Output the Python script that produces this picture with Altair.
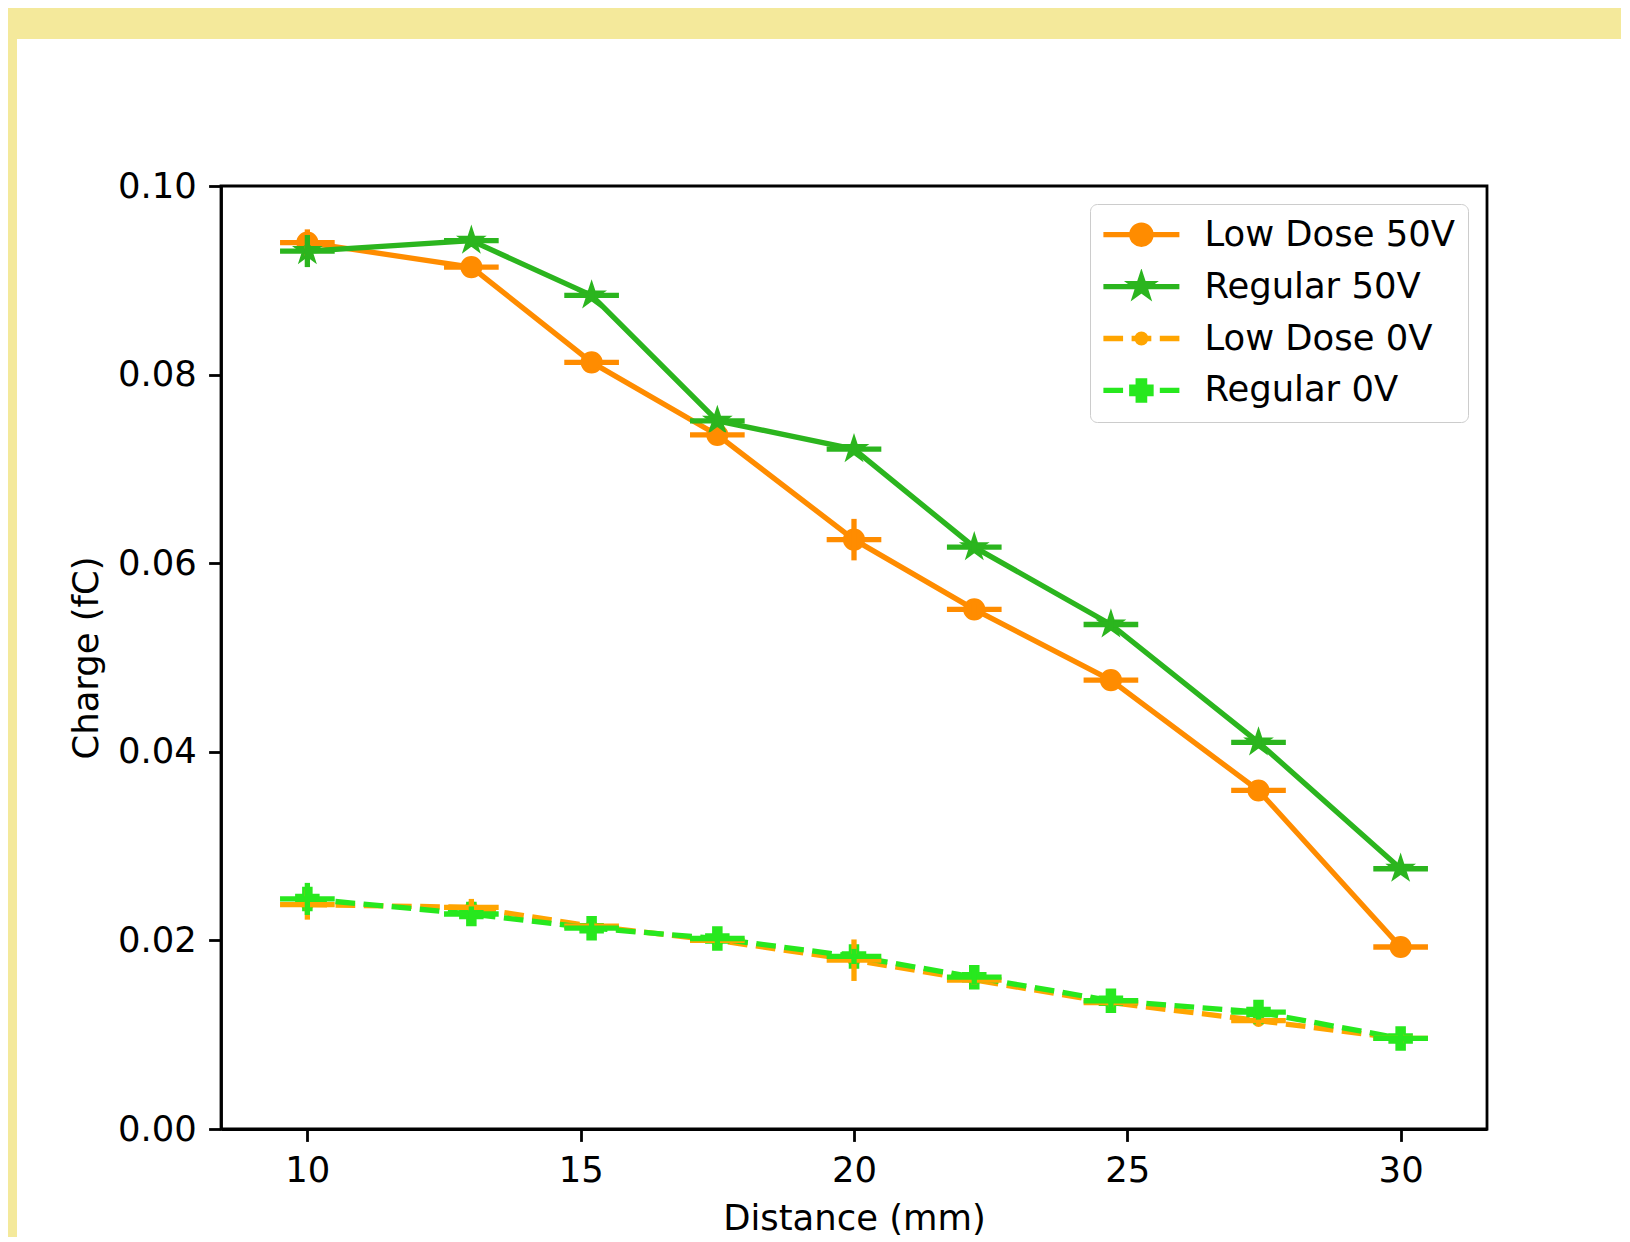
import math
import altair as alt
import pandas as pd

# ---------------- data ----------------
series_names = ["Low Dose 50V", "Regular 50V", "Low Dose 0V", "Regular 0V"]

distance = [10.0, 13.0, 15.2, 17.5, 20.0, 22.2, 24.7, 27.4, 30.0]
distance_err = [0.5, 0.5, 0.5, 0.5, 0.5, 0.5, 0.5, 0.5, 0.5]

charge_low_dose_50v = [0.0940, 0.0914, 0.0813, 0.0736, 0.0625, 0.0551, 0.0476, 0.0359, 0.0193]
err_low_dose_50v = [0.0014, 0.0006, 0.0006, 0.0006, 0.0022, 0.0006, 0.0006, 0.0006, 0.0006]

charge_regular_50v = [0.0931, 0.0942, 0.0884, 0.0751, 0.0721, 0.0617, 0.0535, 0.0410, 0.0276]
err_regular_50v = [0.0017, 0.0005, 0.0005, 0.0005, 0.0005, 0.0005, 0.0005, 0.0005, 0.0005]

charge_low_dose_0v = [0.0238, 0.0235, 0.0215, 0.0200, 0.0179, 0.0158, 0.0134, 0.0115, 0.0096]
err_low_dose_0v = [0.0016, 0.0009, 0.0005, 0.0005, 0.0022, 0.0005, 0.0005, 0.0005, 0.0005]

charge_regular_0v = [0.0244, 0.0228, 0.0213, 0.0202, 0.0183, 0.0161, 0.0136, 0.0124, 0.0096]
err_regular_0v = [0.0017, 0.0008, 0.0008, 0.0008, 0.0008, 0.0008, 0.0008, 0.0008, 0.0008]

x_ticks = [10, 15, 20, 25, 30]
y_ticks = [0.0, 0.02, 0.04, 0.06, 0.08, 0.10]

all_charges = [charge_low_dose_50v, charge_regular_50v, charge_low_dose_0v, charge_regular_0v]
all_errors = [err_low_dose_50v, err_regular_50v, err_low_dose_0v, err_regular_0v]

# ---------------- styles ----------------
FONT = "DejaVu Sans"
FS = 35.4
series_colors = ["#FF8C00", "#2BB51E", "#FFA500", "#27E81E"]
LW = 5.3
DASH = [19.7, 8.5]
YELLOW = "#F4E99B"

W, H = 1266, 943
PAD = {"left": 213, "top": 178, "right": 134, "bottom": 108}


def circle_path(r):
    return f"M{r:.4f},0A{r:.4f},{r:.4f} 0 1,1 {-r:.4f},0A{r:.4f},{r:.4f} 0 1,1 {r:.4f},0Z"


def star_path(R, r):
    pts = []
    for i in range(10):
        a = -math.pi / 2 + i * math.pi / 5
        rad = R if i % 2 == 0 else r
        pts.append((rad * math.cos(a), rad * math.sin(a)))
    return "M" + "L".join(f"{x:.4f},{y:.4f}" for x, y in pts) + "Z"


def plus_path(h):
    base = [(-1, -3), (-1, -1), (-3, -1), (-3, 1), (-1, 1), (-1, 3),
            (1, 3), (1, 1), (3, 1), (3, -1), (1, -1), (1, -3)]
    return "M" + "L".join(f"{x * h / 3:.4f},{y * h / 3:.4f}" for x, y in base) + "Z"


# markers in the plot (unit path scaled by sqrt(size)/2)
marker_defs = [
    dict(shape="circle", size=math.pi * 10.5 ** 2),
    dict(shape=star_path(1.0, 0.381966), size=441),
    dict(shape="circle", size=math.pi * 5.25 ** 2),
    dict(shape=plus_path(1.0), size=441),
]
dashed = [False, False, True, True]

# legend handles (1 unit = 38 px)
solid_line = "M-1,0L1,0"
dashed_line = "M-1,0L-0.482,0M-0.258,0L0.261,0M0.484,0L1,0"
legend_paths = [
    solid_line + circle_path(0.253),
    solid_line + star_path(0.26, 0.1),
    dashed_line + circle_path(0.114),
    dashed_line + plus_path(0.253),
]

# ---------------- table ----------------
rows = []
for name, ys, es in zip(series_names, all_charges, all_errors):
    for x, xe, y, ye in zip(distance, distance_err, ys, es):
        rows.append(dict(series=name, x=x, x_lo=x - xe, x_hi=x + xe,
                         y=y, y_lo=y - ye, y_hi=y + ye))
df = pd.DataFrame(rows)

x_scale = alt.Scale(domain=[8.42, 31.58], nice=False, zero=False)
y_scale = alt.Scale(domain=[0.0, 0.1], nice=False, zero=False)

axis_common = dict(
    grid=False, domain=True, domainColor="black", domainWidth=2.8,
    ticks=True, tickColor="black", tickWidth=2.8, tickSize=12.4,
    labelFont=FONT, labelFontSize=FS, labelColor="black", labelPadding=12.4,
    labelFlush=False, labelOverlap=False,
    titleFont=FONT, titleFontSize=FS, titleFontWeight="normal", titleColor="black",
)
x_axis = alt.Axis(values=x_ticks, format="d", title="Distance (mm)", titlePadding=12, **axis_common)
y_axis = alt.Axis(values=y_ticks, format=".2f", title="Charge (fC)", titlePadding=13, **axis_common)

legend = alt.Legend(
    title=None, orient="none", legendX=869, legendY=18, direction="vertical",
    fillColor="white", strokeColor="#cccccc", cornerRadius=7, padding=13,
    labelFont=FONT, labelFontSize=FS, labelColor="black", labelOffset=22, labelLimit=600,
    symbolSize=5776, symbolStrokeWidth=LW, symbolOpacity=1, symbolOffset=-2.6,
    clipHeight=35.4, rowPadding=14.9,
)
color_scale = alt.Scale(domain=series_names, range=series_colors)

base = alt.Chart(df)
one = pd.DataFrame({"d": [0]})

# yellow frame of the picture
top_band = alt.Chart(one).mark_rect(color=YELLOW).encode(
    x=alt.value(-PAD["left"]), x2=alt.value(W + PAD["right"]),
    y=alt.value(-PAD["top"]), y2=alt.value(31 - PAD["top"]))
left_band = alt.Chart(one).mark_rect(color=YELLOW).encode(
    x=alt.value(-PAD["left"]), x2=alt.value(9 - PAD["left"]),
    y=alt.value(-PAD["top"]), y2=alt.value(H + PAD["bottom"]))

layers = [top_band, left_band]

# legend carrier: invisible points; the legend symbols are forced opaque
legend_layer = base.mark_point(filled=True, strokeWidth=LW, opacity=0, size=5776).encode(
    x=alt.X("x:Q", scale=x_scale, axis=x_axis),
    y=alt.Y("y:Q", scale=y_scale, axis=y_axis),
    fill=alt.Fill("series:N", scale=alt.Scale(domain=series_names, range=series_colors), legend=legend),
    stroke=alt.Stroke("series:N", scale=alt.Scale(domain=series_names, range=series_colors), legend=legend),
    shape=alt.Shape("series:N", scale=alt.Scale(domain=series_names, range=legend_paths), legend=legend),
)
layers.append(legend_layer)

# data lines + markers
for name, col, mk, ds in zip(series_names, series_colors, marker_defs, dashed):
    sub = base.transform_filter(alt.datum.series == name)
    line_kw = dict(strokeWidth=LW, strokeJoin="round")
    if ds:
        line_kw.update(strokeDash=DASH, strokeCap="butt")
    else:
        line_kw.update(strokeCap="square")
    line = sub.mark_line(**line_kw).encode(
        x=alt.X("x:Q", scale=x_scale, axis=x_axis),
        y=alt.Y("y:Q", scale=y_scale, axis=y_axis),
        color=alt.Color("series:N", scale=color_scale, legend=None),
        order="x:Q",
    )
    pts = sub.mark_point(shape=mk["shape"], size=mk["size"], filled=True, fill=col,
                         stroke=col, strokeWidth=3.5, opacity=1).encode(
        x=alt.X("x:Q", scale=x_scale, axis=x_axis),
        y=alt.Y("y:Q", scale=y_scale, axis=y_axis),
    )
    layers += [line, pts]

# error bars on top
for name, col in zip(series_names, series_colors):
    sub = base.transform_filter(alt.datum.series == name)
    xerr = sub.mark_rule(color=col, strokeWidth=LW, strokeCap="butt").encode(
        x=alt.X("x_lo:Q", scale=x_scale, axis=x_axis), x2="x_hi:Q",
        y=alt.Y("y:Q", scale=y_scale, axis=y_axis),
    )
    yerr = sub.mark_rule(color=col, strokeWidth=LW, strokeCap="butt").encode(
        x=alt.X("x:Q", scale=x_scale, axis=x_axis),
        y=alt.Y("y_lo:Q", scale=y_scale, axis=y_axis), y2="y_hi:Q",
    )
    layers += [xerr, yerr]

chart = alt.layer(*layers).properties(
    width=W, height=H,
    padding=PAD,
    autosize=alt.AutoSizeParams(type="none"),
    background="white",
).configure_view(stroke="black", strokeWidth=2.8)

chart.save("out.html", embed_options={"renderer": "svg", "actions": False})
